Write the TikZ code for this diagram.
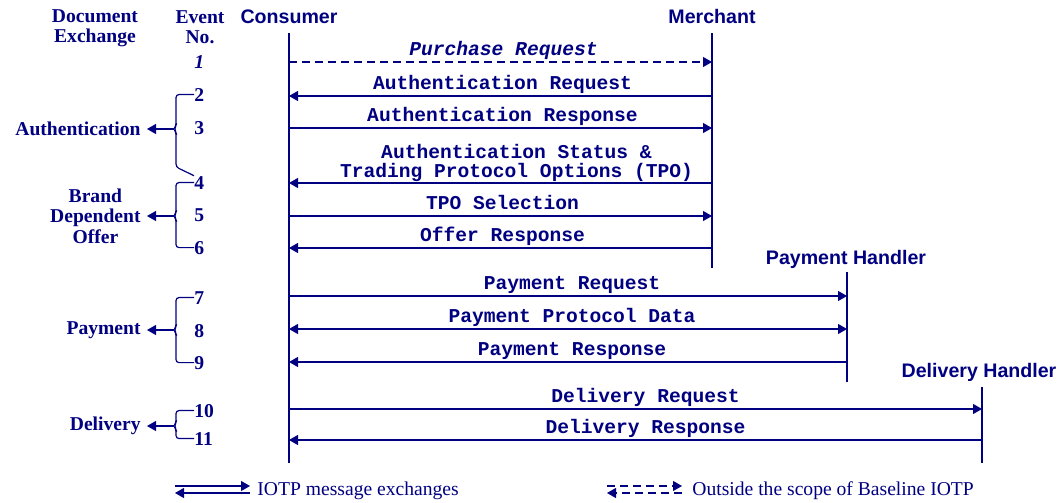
\documentclass[tikz,border=0pt]{standalone}
\usepackage{fontspec}
\setmainfont{Liberation Serif}
\setsansfont{Liberation Sans}
\setmonofont{Liberation Mono}
\usepackage{tikz}
\usetikzlibrary{arrows.meta}
\definecolor{ink}{HTML}{000080}
\newcommand{\figsize}{\fontsize{9.8}{10.2}\selectfont}
\tikzset{
  life/.style={draw=ink, line width=1pt},
  msg/.style={draw=ink, line width=0.6pt, -{Triangle[length=4.5pt,width=5pt]}},
  both/.style={msg, {Triangle[length=4.5pt,width=5pt]}-{Triangle[length=4.5pt,width=5pt]}},
  outside/.style={msg, dash pattern=on 4pt off 2.5pt},
  brk/.style={draw=ink, line width=0.6pt, rounded corners=1.5pt},
  hdr/.style={text=ink, font=\sffamily\bfseries\figsize, inner sep=0pt, anchor=base},
  col/.style={text=ink, font=\bfseries\figsize, align=center, inner sep=0pt},
  num/.style={text=ink, font=\bfseries\figsize, inner sep=0pt, anchor=base west},
  grp/.style={text=ink, font=\bfseries\figsize, align=center, inner sep=3pt, anchor=east},
  lab/.style={text=ink, font=\ttfamily\bfseries\figsize, inner sep=0pt, anchor=base, yshift=3.5pt},
  key/.style={text=ink, font=\figsize, inner sep=0pt, anchor=base west},
}

\begin{document}
\begin{tikzpicture}[x=0.5pt, y=-0.5pt]
  \useasboundingbox (0,0) rectangle (1060,503);

  % column heads and parties
  \node[col] (docx) at (95,28) {Document\\Exchange};
  \node[col] (evno) at (200,27) {Event\\No.};
  \node[hdr] (cons) at (289,24) {Consumer};
  \node[hdr] (merch) at (712,24) {Merchant};
  \node[hdr] (payh) at (846,264) {Payment Handler};
  \node[hdr] (delh) at (979,377) {Delivery Handler};

  % lifelines
  \coordinate (cons-top) at (289,33);  \coordinate (cons-bot) at (289,463);
  \coordinate (merch-top) at (712,33); \coordinate (merch-bot) at (712,268);
  \coordinate (payh-top) at (847,272); \coordinate (payh-bot) at (847,382);
  \coordinate (delh-top) at (982,387); \coordinate (delh-bot) at (982,463);
  \foreach \p in {cons,merch,payh,delh}
    \draw[life] (\p-top) -- (\p-bot);

  % message end points
  \foreach \n/\y in {1/62,2/96,3/128,4/183,5/216,6/248,7/296,8/329,9/362,10/409,11/440}
    \coordinate (c\n) at (289,\y);
  \foreach \n/\y in {1/62,2/96,3/128,4/183,5/216,6/248}
    \coordinate (m\n) at (712,\y);
  \foreach \n/\y in {7/296,8/329,9/362}
    \coordinate (p\n) at (847,\y);
  \foreach \n/\y in {10/409,11/440}
    \coordinate (d\n) at (982,\y);

  % messages
  \draw[outside] (c1) -- (m1) node[lab, midway, xshift=1.5pt, font=\ttfamily\bfseries\itshape\figsize] {Purchase Request};
  \draw[msg] (m2) -- (c2) node[lab, midway, xshift=1pt] {Authentication Request};
  \draw[msg] (c3) -- (m3) node[lab, midway, xshift=1pt] {Authentication Response};
  \draw[msg] (m4) -- (c4) node[text=ink, font=\ttfamily\bfseries\fontsize{9.8}{9.5}\selectfont, align=center,
    inner sep=0pt, anchor=south, midway, xshift=8pt, yshift=0.5pt] {Authentication Status \&\\Trading Protocol Options (TPO)};
  \draw[msg] (c5) -- (m5) node[lab, midway, xshift=1pt] {TPO Selection};
  \draw[msg] (m6) -- (c6) node[lab, midway, xshift=1pt] {Offer Response};
  \draw[msg] (c7) -- (p7) node[lab, midway, xshift=2pt] {Payment Request};
  \draw[both] (c8) -- (p8) node[lab, midway, xshift=2pt] {Payment Protocol Data};
  \draw[msg] (p9) -- (c9) node[lab, midway, xshift=2pt] {Payment Response};
  \draw[msg] (c10) -- (d10) node[lab, midway, xshift=5pt] {Delivery Request};
  \draw[msg] (d11) -- (c11) node[lab, midway, xshift=5pt] {Delivery Response};

  % event numbers
  \node[num, font=\bfseries\itshape\figsize] (e1) at (194,68) {1};
  \foreach \n/\y in {2/101,3/134,4/189,5/221.5,6/254,7/304,8/337,9/369,10/417,11/445}
    \node[num] (e\n) at (194,\y) {\n};

  % document exchange groups
  \node[grp] (auth) at (147,129) {Authentication};
  \node[grp] (brand) at (147,216) {Brand\\Dependent\\Offer};
  \node[grp] (pay) at (147,330) {Payment};
  \node[grp] (deliv) at (147,426) {Delivery};

  \draw[brk] (e2.west) -| (176,126) -- (174,129) -- (176,132) -- (176,167) -- (e4.north west);
  \draw[msg] (174,129) -- (auth.east);
  \foreach \a/\b/\m/\g in {4/6/216/brand, 7/9/330/pay, 10/11/426/deliv}{
    \draw[brk] (e\a.west) -| (176,{\m-3}) -- (174,\m) -- (176,{\m+3}) |- (e\b.west);
    \draw[msg] (174,\m) -- (\g.east);
  }

  % legend
  \coordinate (k1a) at (175,486); \coordinate (k1b) at (250,486);
  \coordinate (k2a) at (250,493); \coordinate (k2b) at (175,493);
  \draw[msg] (k1a) -- (k1b);
  \draw[msg] (k2a) -- (k2b);
  \node[key] (keyiotp) at (257,495) {IOTP message exchanges};
  \coordinate (k3a) at (607,486); \coordinate (k3b) at (682,486);
  \coordinate (k4a) at (682,493); \coordinate (k4b) at (607,493);
  \draw[outside] (k3a) -- (k3b);
  \draw[outside] (k4a) -- (k4b);
  \node[key] (keyout) at (692,495) {Outside the scope of Baseline IOTP};
\end{tikzpicture}
\end{document}
